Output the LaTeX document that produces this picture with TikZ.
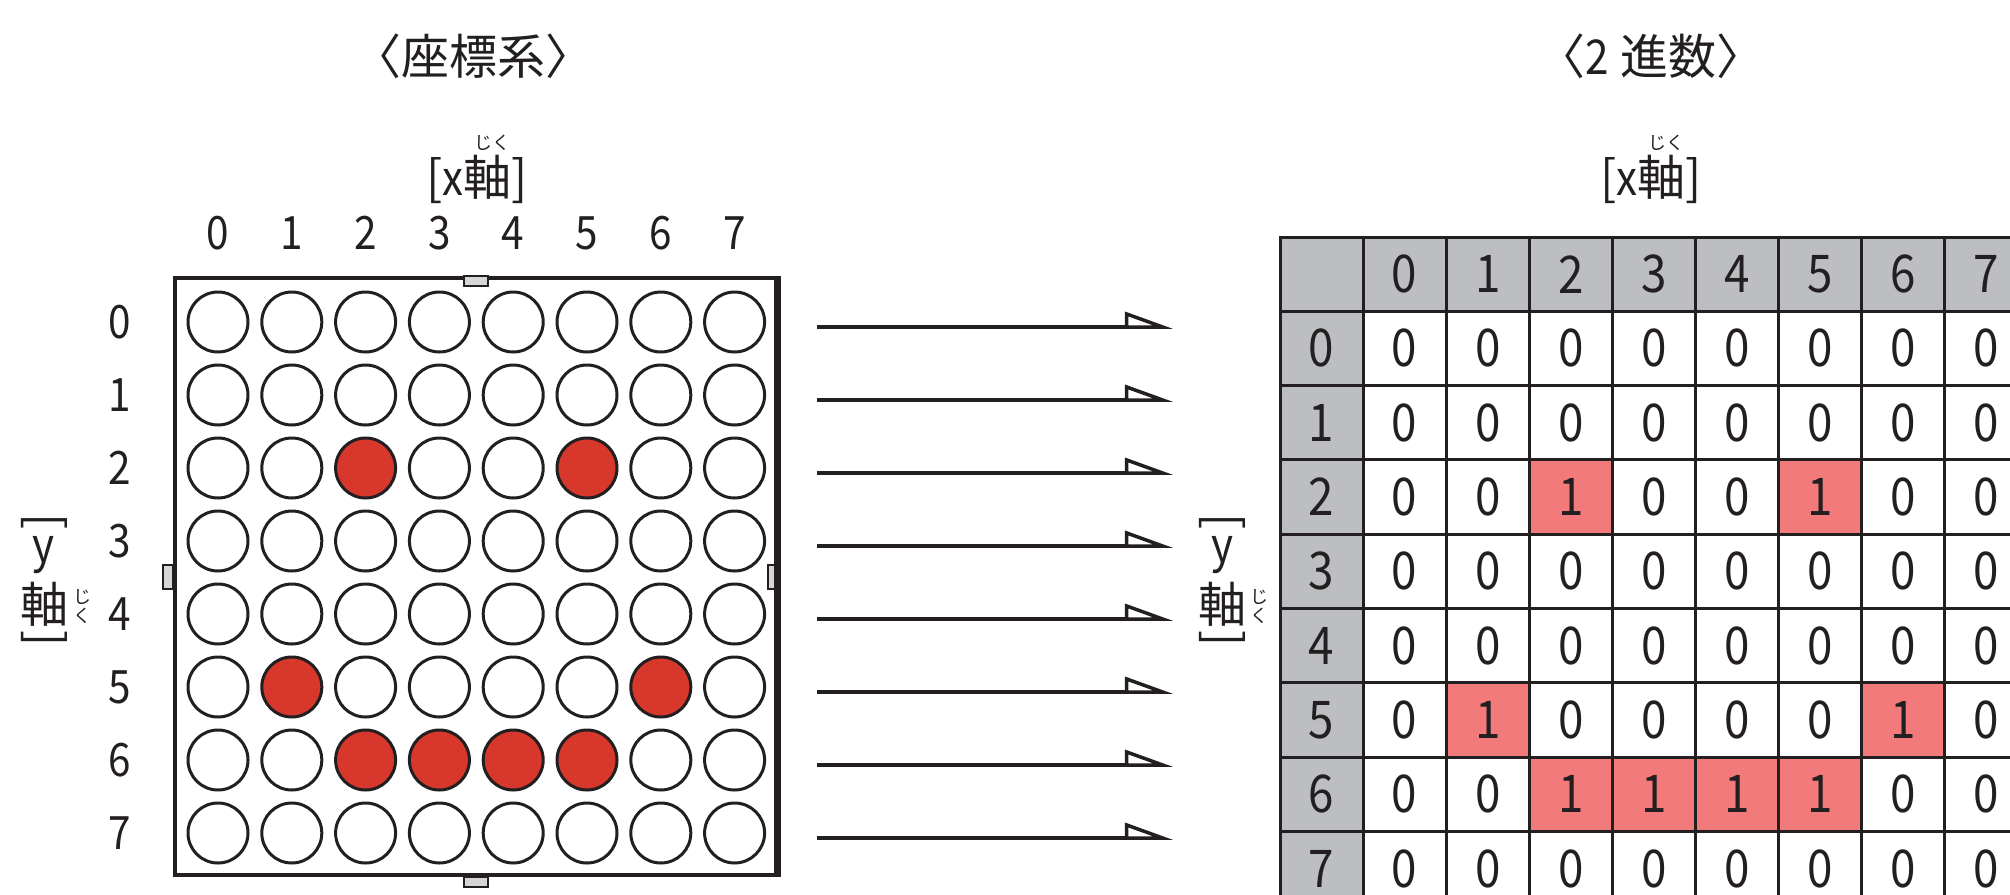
\documentclass[tikz,border=0pt]{standalone}
\usepackage{fontspec}
\setmainfont{Noto Sans CJK JP}
\newfontfamily\latn[FakeStretch=0.88]{Noto Sans CJK JP}
\usepackage{graphicx}
\usepackage{tikz}
\usetikzlibrary{positioning,arrows.meta,calc}
\definecolor{ink}{HTML}{231F20}
\definecolor{ledred}{HTML}{D7382B}
\definecolor{cellred}{HTML}{F37A7A}
\definecolor{hdrgray}{HTML}{BDBEC1}
\definecolor{notchgray}{HTML}{D6D6D6}

\tikzset{
  lbl/.style={font=\latn\fontsize{46}{50}\selectfont, text=ink, inner sep=0pt},
  ttl/.style={font=\fontsize{48}{52}\selectfont, text=ink, inner sep=0pt},
  ruby/.style={font=\fontsize{18}{19}\selectfont, text=ink, inner sep=0pt, align=center},
  led/.style={circle, draw=ink, line width=3pt, minimum size=60pt, inner sep=0pt},
  led0/.style={fill=white},
  led1/.style={fill=ledred},
  cell/.style={draw=ink, line width=3pt, minimum width=83.1pt, minimum height=74.3pt,
    inner sep=0pt, font=\latn\fontsize{52}{56}\selectfont, text=ink},
  bit0/.style={fill=white},
  bit1/.style={fill=cellred},
  head/.style={fill=hdrgray},
  notch/.style={draw=ink, line width=2pt, fill=notchgray},
  rowarrow/.style={draw=ink, line width=3.5pt, -{Triangle[open, left, length=43pt, width=30pt]}},
}

\begin{document}
\begin{tikzpicture}[x=1pt, y=-1pt]
  \useasboundingbox (0,0) rectangle (2010,894);
  \clip (0,0) rectangle (2010,894);
  % titles
  \node[ttl] (ttlL) at (473,56) {〈座標系〉};
  \node[ttl] (ttlR) at (1651,56) {〈{\latn 2} 進数〉};
  % x-axis labels with ruby
  \node[ttl] (xlL) at (477,179) {[{\latn x}軸]};
  \node[ruby] (xrL) at (492,143) {じく};
  \node[ttl] (xlR) at (1651,179) {[{\latn x}軸]};
  \node[ruby] (xrR) at (1666,143) {じく};
  % y-axis labels (vertical)
  \foreach \xc/\xr/\s in {44/82/L, 1222/1259/R}{
    \node[ttl] (ybt\s) at (\xc,522) {\rotatebox{-90}{[}};
    \node[ttl] (yy\s) at (\xc,555) {\latn y};
    \node[ttl] (yax\s) at (\xc,604) {軸};
    \node[ttl] (ybb\s) at (\xc,639) {\rotatebox{-90}{]}};
    \node[ruby] (yru\s) at (\xr,607) {じ\\く};
  }
  % LED panel
  \node[draw=ink, line width=3.5pt, fill=white, minimum width=601pt, minimum height=597pt,
    inner sep=0pt] (panel) at (475.5,576.5) {};
  \draw[notch] ([xshift=-12pt]panel.north) rectangle ++(24,10);
  \draw[notch] ([xshift=-12pt]panel.south) rectangle ++(24,10);
  \draw[notch] ($(panel.west)+(-10,-12)$) rectangle ++(10,24);
  \draw[notch] ($(panel.east)+(-10,-12)$) rectangle ++(10,24);
  \draw[ink, line width=7pt] (panel.north east) -- (panel.south east);
  \foreach \col in {0,...,7}
    \node[lbl] (cx\col) at ({218+73.8*\col},233) {\col};
  % rows: value = bits read from the left
  \foreach \row/\rv in {0/0,1/0,2/36,3/0,4/0,5/66,6/60,7/0}{
    \node[lbl] (ry\row) at (120,{322+73*\row}) {\row};
    \foreach \col in {0,...,7}{
      \pgfmathtruncatemacro\bit{mod(floor(\rv/2^(7-\col)),2)}
      \node[led, led\bit] (d-\row-\col) at ({218+73.8*\col},{322+73*\row}) {};
    }
  }
  % arrows
  \foreach \row in {0,...,7}{
    \coordinate (as\row) at (817,{327+73*\row});
    \coordinate (ae\row) at (1173,{327+73*\row});
    \draw[rowarrow] (as\row) -- (ae\row);
  }
  % table
  \node[cell, head] (corner) at (1321.55,274.15) {};
  \foreach \col in {0,...,7}
    \node[cell, head] (h-\col) at ({1280+83.1*(\col+1.5)},274.15) {\col};
  \foreach \row/\rv in {0/0,1/0,2/36,3/0,4/0,5/66,6/60,7/0}{
    \node[cell, head] (rh-\row) at (1321.55,{237+74.3*(\row+1.5)}) {\row};
    \foreach \col in {0,...,7}{
      \pgfmathtruncatemacro\bit{mod(floor(\rv/2^(7-\col)),2)}
      \node[cell, bit\bit] (t-\row-\col) at ({1280+83.1*(\col+1.5)},{237+74.3*(\row+1.5)}) {\bit};
    }
  }
\end{tikzpicture}
\end{document}
